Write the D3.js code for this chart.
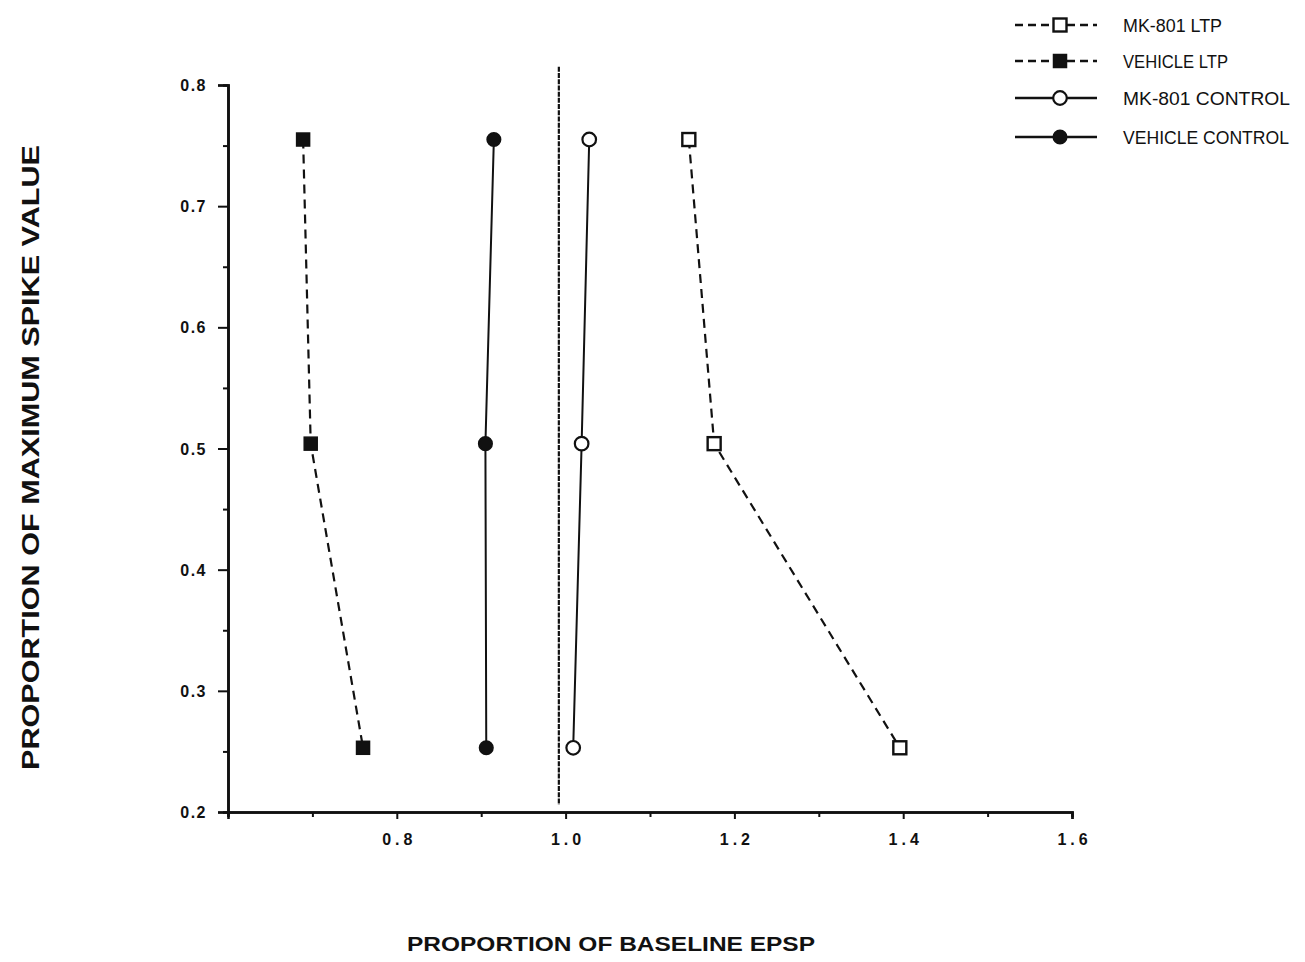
<!DOCTYPE html>
<html>
<head>
<meta charset="utf-8">
<script src="https://cdn.jsdelivr.net/npm/d3@7"></script>
<style>
  html, body { margin: 0; padding: 0; background: #fff; }
  svg { display: block; }
  text { font-family: "Liberation Sans", Arial, sans-serif; fill: #111; }
</style>
</head>
<body>
<svg id="chart" width="1305" height="962"></svg>
<script>
// Spike level (proportion of maximum) at which each EPSP ratio was measured
const spikeLevels = [0.755, 0.504, 0.253];

// Proportion of baseline EPSP for each group at those spike levels
const mk801LTP      = [1.146, 1.176, 1.396];
const vehicleLTP    = [0.689, 0.698, 0.760];
const mk801Control  = [1.028, 1.019, 1.009];
const vehicleControl= [0.915, 0.905, 0.906];

const seriesNames = ["MK-801 LTP", "VEHICLE LTP", "MK-801 CONTROL", "VEHICLE CONTROL"];

// Axis ticks
const xTicks = [0.8, 1.0, 1.2, 1.4, 1.6];
const xMinorTicks = [0.6, 0.7, 0.9, 1.1, 1.3, 1.5];
const yTicks = [0.2, 0.3, 0.4, 0.5, 0.6, 0.7, 0.8];
const yMinorTicks = [0.25, 0.35, 0.45, 0.55, 0.65, 0.75];

// Baseline reference (EPSP ratio of ~1)
const referenceX = 0.992;
const referenceY = [0.206, 0.815];

const svg = d3.select("#chart");

const x = d3.scaleLinear().domain([0.6, 1.6]).range([228, 1072]);
const y = d3.scaleLinear().domain([0.2, 0.8]).range([812, 85]);

const ink = "#111";
const font = "'Liberation Sans', Arial, sans-serif";

// X axis: labelled majors, short minors, ticks pointing down
const xAxisG = svg.append("g").attr("transform", `translate(0,${y(0.2)})`);
xAxisG.call(d3.axisBottom(x).tickValues(xTicks).tickSize(7).tickPadding(15)
  .tickFormat(d3.format(".1f")));
const xMinorG = svg.append("g").attr("transform", `translate(0,${y(0.2)})`);
xMinorG.call(d3.axisBottom(x).tickValues(xMinorTicks).tickSize(5).tickFormat(""));

// Y axis: ticks pointing left
const yAxisG = svg.append("g").attr("transform", `translate(${x(0.6)},0)`);
yAxisG.call(d3.axisLeft(y).tickValues(yTicks).tickSize(10).tickPadding(11)
  .tickFormat(d3.format(".1f")));
const yMinorG = svg.append("g").attr("transform", `translate(${x(0.6)},0)`);
yMinorG.call(d3.axisLeft(y).tickValues(yMinorTicks).tickSize(5).tickFormat(""));

[xAxisG, xMinorG, yAxisG, yMinorG].forEach(g => {
  g.attr("font-size", null).attr("font-family", null);
  g.select(".domain").attr("stroke", ink).attr("stroke-width", 2.6);
  g.selectAll(".tick line").attr("stroke", ink).attr("stroke-width", 2);
});
xAxisG.selectAll(".tick text")
  .style("font-size", "16px").style("font-weight", "bold")
  .attr("letter-spacing", "4px").attr("dx", "2px").attr("fill", ink)
  .style("font-family", font);
yAxisG.selectAll(".tick text")
  .style("font-size", "16px").style("font-weight", "bold")
  .attr("letter-spacing", "1.5px").attr("fill", ink).attr("dy", "0.35em")
  .style("font-family", font);

// Reference line
svg.append("line")
  .attr("x1", x(referenceX)).attr("x2", x(referenceX))
  .attr("y1", y(referenceY[1])).attr("y2", y(referenceY[0]))
  .attr("stroke", ink).attr("stroke-width", 2.2)
  .attr("stroke-dasharray", "5,1.2");

const series = [
  { name: seriesNames[0], xs: mk801LTP,       dashed: true,  shape: "square", filled: false },
  { name: seriesNames[1], xs: vehicleLTP,     dashed: true,  shape: "square", filled: true },
  { name: seriesNames[2], xs: mk801Control,   dashed: false, shape: "circle", filled: false },
  { name: seriesNames[3], xs: vehicleControl, dashed: false, shape: "circle", filled: true }
];

const line = d3.line().x(d => x(d[0])).y(d => y(d[1]));

function drawMarker(g, cx, cy, s) {
  if (s.shape === "square") {
    g.append("rect")
      .attr("x", cx - 6.5).attr("y", cy - 6.5)
      .attr("width", 13).attr("height", 13)
      .attr("fill", s.filled ? ink : "#fff")
      .attr("stroke", ink).attr("stroke-width", s.filled ? 1.5 : 2.4);
  } else {
    g.append("circle")
      .attr("cx", cx).attr("cy", cy).attr("r", 6.8)
      .attr("fill", s.filled ? ink : "#fff")
      .attr("stroke", ink).attr("stroke-width", s.filled ? 1.5 : 2.2);
  }
}

series.forEach(s => {
  const pts = s.xs.map((v, i) => [v, spikeLevels[i]]);
  const g = svg.append("g");
  g.append("path")
    .attr("d", line(pts))
    .attr("fill", "none").attr("stroke", ink)
    .attr("stroke-width", s.dashed ? 2.2 : 2)
    .attr("stroke-dasharray", s.dashed ? "9,6" : null);
  pts.forEach(p => drawMarker(g, x(p[0]), y(p[1]), s));
});

// Legend
const legendRows = [25, 61, 98, 137];
const legendWidths = [99, 105, 167, 166];
series.forEach((s, i) => {
  const g = svg.append("g");
  const cy = legendRows[i];
  g.append("line")
    .attr("x1", 1015).attr("x2", 1097).attr("y1", cy).attr("y2", cy)
    .attr("stroke", ink).attr("stroke-width", 2.4)
    .attr("stroke-dasharray", s.dashed ? "8,5" : null);
  drawMarker(g, 1060, cy, s);
  g.append("text")
    .attr("x", 1123).attr("y", cy + 6.5)
    .attr("font-size", 18)
    .attr("textLength", legendWidths[i]).attr("lengthAdjust", "spacingAndGlyphs")
    .text(s.name);
});

// Axis titles
svg.append("text")
  .attr("x", 407).attr("y", 951)
  .attr("font-size", 21).attr("font-weight", "bold")
  .attr("textLength", 408).attr("lengthAdjust", "spacingAndGlyphs")
  .text("PROPORTION OF BASELINE EPSP");

svg.append("text")
  .attr("transform", "translate(39,770) rotate(-90)")
  .attr("font-size", 23).attr("font-weight", "bold")
  .attr("textLength", 625).attr("lengthAdjust", "spacingAndGlyphs")
  .text("PROPORTION OF MAXIMUM SPIKE VALUE");
</script>
</body>
</html>
